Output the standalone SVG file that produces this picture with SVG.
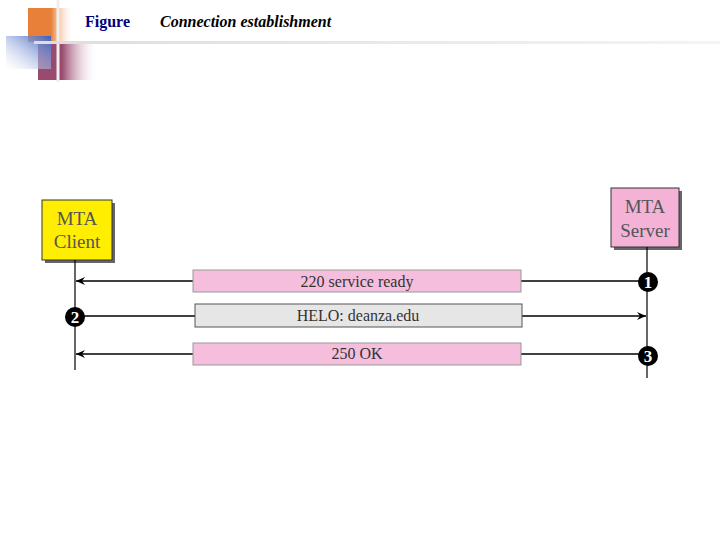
<svg xmlns="http://www.w3.org/2000/svg" width="720" height="540" viewBox="0 0 720 540">
<defs>
<linearGradient id="og" x1="0" x2="1"><stop offset="0.5" stop-color="#e8803a"/><stop offset="1" stop-color="#fff" stop-opacity="0"/></linearGradient>
<linearGradient id="bg" x1="1" y1="0" x2="0" y2="1"><stop offset="0" stop-color="#3a5fc0"/><stop offset="1" stop-color="#fff" stop-opacity="0.3"/></linearGradient>
<linearGradient id="pg" x1="0" x2="1"><stop offset="0.4" stop-color="#9a4a6e"/><stop offset="1" stop-color="#fff" stop-opacity="0"/></linearGradient>
<linearGradient id="hl" x1="0" x2="1"><stop offset="0" stop-color="#ddd"/><stop offset="1" stop-color="#f4f4f4"/></linearGradient>
<marker id="ah" markerWidth="10" markerHeight="8" refX="9" refY="4" orient="auto" markerUnits="userSpaceOnUse"><path d="M0,0 L9,4 L0,8 L3,4 Z" fill="#000"/></marker>
</defs>
<style>
.lbl{font-family:"Liberation Serif",serif;font-size:16px;fill:#333;text-anchor:middle}
.node{font-family:"Liberation Serif",serif;font-size:19px;fill:#555;text-anchor:middle}
.life{stroke:#000;stroke-width:1.2}
.msg{stroke:#000;stroke-width:1.5;fill:none}
.badge{fill:#000}
.bt{font-family:"Liberation Serif",serif;font-weight:bold;font-size:17px;fill:#fff;text-anchor:middle}
</style>
<rect width="720" height="540" fill="#fff"/>
<g id="decor">
<rect x="28" y="8" width="46" height="34" fill="url(#og)"/>
<rect x="38" y="44" width="60" height="36" fill="url(#pg)"/>
<rect x="6" y="36" width="45" height="33" fill="url(#bg)"/>
<line x1="58" y1="0" x2="58" y2="82" stroke="#eee" stroke-width="3"/>
<rect x="34" y="41" width="686" height="3" fill="url(#hl)"/>
<text x="85" y="27" font-family="Liberation Serif,serif" font-weight="bold" font-size="16" fill="#000080">Figure</text>
<text x="160" y="27" font-family="Liberation Serif,serif" font-weight="bold" font-style="italic" font-size="16" fill="#000">Connection establishment</text>
</g>
<g id="client">
<rect x="45" y="203" width="70" height="60" fill="#666"/>
<rect x="42" y="200" width="70" height="60" fill="#ffee00" stroke="#333"/>
<text class="node" x="77" y="225">MTA</text>
<text class="node" x="77" y="248">Client</text>
</g>
<g id="server">
<rect x="614" y="191" width="68" height="59" fill="#666"/>
<rect x="611" y="188" width="68" height="59" fill="#f4b3d6" stroke="#333"/>
<text class="node" x="645" y="213">MTA</text>
<text class="node" x="645" y="237">Server</text>
</g>
<g id="connectors">
<line class="life" x1="75" y1="260" x2="75" y2="370"/>
<line class="life" x1="647" y1="247" x2="647" y2="378"/>
<line class="msg" x1="647" y1="281" x2="76" y2="281" marker-end="url(#ah)"/>
<line class="msg" x1="75" y1="316" x2="646" y2="316" marker-end="url(#ah)"/>
<line class="msg" x1="647" y1="354" x2="76" y2="354" marker-end="url(#ah)" stroke-width="1.2"/>
</g>
<g id="m1"><rect x="193" y="270" width="328" height="22" fill="#f4bedc" stroke="#999"/><text class="lbl" x="357" y="287">220 service ready</text></g>
<g id="m2"><rect x="195" y="304" width="327" height="23" fill="#e6e6e6" stroke="#555"/><text class="lbl" x="358" y="321">HELO: deanza.edu</text></g>
<g id="m3"><rect x="193" y="343" width="328" height="22" fill="#f4bedc" stroke="#999"/><text class="lbl" x="357" y="359">250 OK</text></g>
<g id="b1"><circle class="badge" cx="648" cy="282" r="10"/><text class="bt" x="648" y="288">1</text></g>
<g id="b2"><circle class="badge" cx="75" cy="317" r="10"/><text class="bt" x="75" y="323">2</text></g>
<g id="b3"><circle class="badge" cx="648" cy="356" r="10"/><text class="bt" x="648" y="362">3</text></g>
</svg>
